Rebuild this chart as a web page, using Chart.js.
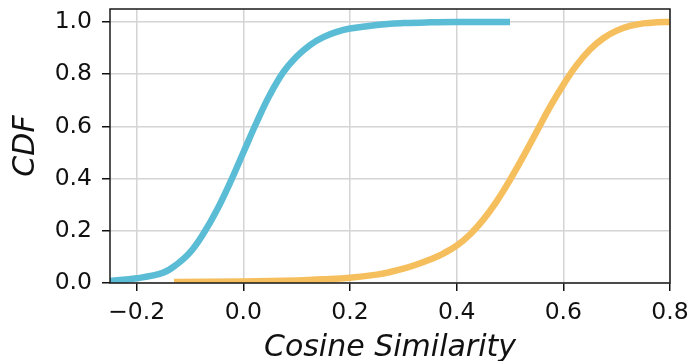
<!DOCTYPE html>
<html>
<head>
<meta charset="utf-8">
<script src="https://cdn.jsdelivr.net/npm/chart.js@4"></script>
<style>
    body { margin: 0; background: #fff; }
    #wrap { width: 690px; height: 361px; position: relative; }
</style>
</head>
<body>
<div id="wrap"><canvas id="cdfChart"></canvas></div>
<script>
// CDF curves
const blueX = [-0.25, -0.2, -0.15, -0.125, -0.1, -0.075, -0.05, -0.025, 0.0, 0.025, 0.05, 0.075, 0.1, 0.125, 0.15, 0.175, 0.2, 0.25, 0.3, 0.35, 0.4, 0.5];
const blueY = [0.008, 0.018, 0.04, 0.071, 0.117, 0.189, 0.278, 0.384, 0.5, 0.616, 0.722, 0.808, 0.868, 0.912, 0.942, 0.962, 0.975, 0.989, 0.996, 0.999, 1.0, 1.0];

const orangeX = [-0.13, 0.0, 0.1, 0.15, 0.2, 0.25, 0.275, 0.3, 0.325, 0.35, 0.375, 0.4, 0.425, 0.45, 0.475, 0.5, 0.525, 0.55, 0.575, 0.6, 0.625, 0.65, 0.675, 0.7, 0.725, 0.75, 0.775, 0.8];
const orangeY = [0.004, 0.006, 0.01, 0.014, 0.02, 0.032, 0.042, 0.055, 0.071, 0.09, 0.113, 0.143, 0.186, 0.243, 0.313, 0.395, 0.485, 0.58, 0.675, 0.76, 0.835, 0.895, 0.938, 0.967, 0.985, 0.995, 0.999, 1.0];

const xTicks = [-0.2, 0.0, 0.2, 0.4, 0.6, 0.8];
const yTicks = [0.0, 0.2, 0.4, 0.6, 0.8, 1.0];

const toPoints = (xs, ys) => xs.map((x, i) => ({ x: x, y: ys[i] }));
const fmt = v => v.toFixed(1).replace("-", "\u2212");

// black frame around the plot area (matplotlib spines)
const frame = {
    id: "frame",
    afterDraw(chart) {
        const a = chart.chartArea;
        const ctx = chart.ctx;
        ctx.save();
        ctx.strokeStyle = "#1a1a1a";
        ctx.lineWidth = 1.5;
        ctx.strokeRect(a.left, a.top, a.right - a.left, a.bottom - a.top);
        ctx.restore();
    }
};

const tickFont = { family: "DejaVu Sans", size: 23.5 };
const titleFont = { family: "DejaVu Sans", size: 30, style: "italic" };

new Chart(document.getElementById("cdfChart").getContext("2d"), {
    type: "line",
    data: {
        datasets: [{
            data: toPoints(blueX, blueY),
            borderColor: "#5bbcd5",
            borderWidth: 6.5,
            tension: 0.4,
            pointRadius: 0,
            fill: false
        }, {
            data: toPoints(orangeX, orangeY),
            borderColor: "#f6bf5e",
            borderWidth: 6.5,
            tension: 0.4,
            pointRadius: 0,
            fill: false
        }]
    },
    options: {
        responsive: true,
        maintainAspectRatio: false,
        animation: false,
        layout: { padding: { left: 0, right: 20, top: 9, bottom: 0 } },
        plugins: {
            legend: { display: false },
            tooltip: { enabled: false }
        },
        scales: {
            x: {
                type: "linear",
                min: -0.25,
                max: 0.8,
                afterBuildTicks: s => { s.ticks = xTicks.map(v => ({ value: v })); },
                afterFit: s => { s.height = 78; s.paddingLeft = 0; s.paddingRight = 0; },
                ticks: {
                    color: "#111",
                    font: tickFont,
                    padding: 8,
                    maxRotation: 0,
                    callback: v => fmt(v)
                },
                grid: {
                    color: "#d4d4d4",
                    lineWidth: 1.5,
                    tickColor: "#111",
                    tickLength: 8
                },
                border: { display: false },
                title: {
                    display: true,
                    text: "Cosine Similarity",
                    color: "#111",
                    font: titleFont,
                    padding: { top: 0, bottom: -5 }
                }
            },
            y: {
                min: 0,
                max: 1.05,
                afterBuildTicks: s => { s.ticks = yTicks.map(v => ({ value: v })); },
                afterFit: s => { s.width = 110; s.paddingTop = 0; s.paddingBottom = 0; },
                ticks: {
                    color: "#111",
                    font: tickFont,
                    padding: 10,
                    callback: v => fmt(v)
                },
                grid: {
                    color: "#d4d4d4",
                    lineWidth: 1.5,
                    tickColor: "#111",
                    tickLength: 8
                },
                border: { display: false },
                title: {
                    display: true,
                    text: "CDF",
                    color: "#111",
                    font: titleFont,
                    padding: { top: 8, bottom: 0 }
                }
            }
        }
    },
    plugins: [frame]
});
</script>
</body>
</html>
